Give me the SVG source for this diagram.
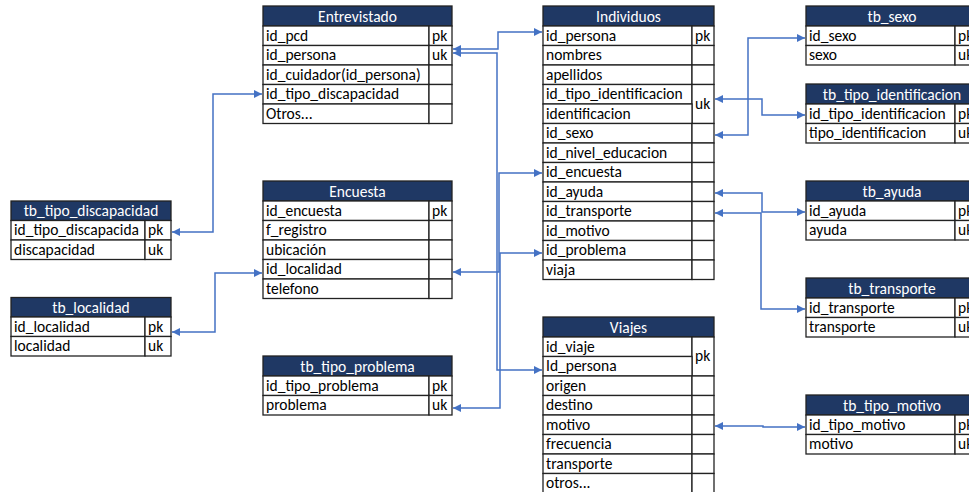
<svg xmlns="http://www.w3.org/2000/svg" width="969" height="492" viewBox="0 0 969 492">
<defs>
<marker id="ah" viewBox="0 0 8 8" refX="8" refY="4" markerWidth="8" markerHeight="8" markerUnits="userSpaceOnUse" orient="auto-start-reverse">
<path d="M0,0 L8,4 L0,8 z" fill="#4472C4"/>
</marker>
<style>
.hd{fill:#1F3864;stroke:#222;stroke-width:1.3}
.c{fill:#fff;stroke:#222;stroke-width:1.3}
.t{font-family:Carlito,Lato,"Liberation Sans",sans-serif;font-size:15.5px;fill:#000}
.h{font-family:Carlito,Lato,"Liberation Sans",sans-serif;font-size:15.5px;fill:#fff;text-anchor:middle}
.ln{fill:none;stroke:#4472C4;stroke-width:1.5;marker-start:url(#ah);marker-end:url(#ah)}
</style>
</defs>
<rect width="969" height="492" fill="#fff"/>

<g id="connectors">
<path class="ln" d="M453,49 H498 V32 H542"/>
<path class="ln" d="M453,53 H497 V370 H542"/>
<path class="ln" d="M453,272 H499 V173 H542"/>
<path class="ln" d="M453,408 H500 V253 H542"/>
<path class="ln" d="M172,232 H213 V94 H262"/>
<path class="ln" d="M172,332 H215 V273 H262"/>
<path class="ln" d="M715,99 H762 V115 H805"/>
<path class="ln" d="M715,135 H748 V38 H805"/>
<path class="ln" d="M715,193 H762 V212 H805"/>
<path class="ln" d="M715,213 H761 V309 H805"/>
<path class="ln" d="M715,426 H763 V427 H805"/>
</g>

<g id="entrevistado">
<rect class="hd" x="263" y="6" width="189" height="20"/>
<text class="h" x="357.5" y="21.5">Entrevistado</text>
<rect class="c" x="263" y="26" width="166" height="19.5"/><rect class="c" x="429" y="26" width="23" height="19.5"/>
<rect class="c" x="263" y="45.5" width="166" height="19.5"/><rect class="c" x="429" y="45.5" width="23" height="19.5"/>
<rect class="c" x="263" y="65" width="166" height="19.5"/><rect class="c" x="429" y="65" width="23" height="19.5"/>
<rect class="c" x="263" y="84.5" width="166" height="19.5"/><rect class="c" x="429" y="84.5" width="23" height="19.5"/>
<rect class="c" x="263" y="104" width="166" height="19.5"/><rect class="c" x="429" y="104" width="23" height="19.5"/>
<text class="t" x="266" y="40.5">id_pcd</text><text class="t" x="432" y="40.5">pk</text>
<text class="t" x="266" y="60">id_persona</text><text class="t" x="432" y="60">uk</text>
<text class="t" x="266" y="79.5">id_cuidador(id_persona)</text>
<text class="t" x="266" y="99">id_tipo_discapacidad</text>
<text class="t" x="266" y="118.5">Otros...</text>
</g>

<g id="individuos">
<rect class="hd" x="543" y="6" width="171" height="20"/>
<text class="h" x="628.5" y="21.5">Individuos</text>
<rect class="c" x="543" y="26" width="149" height="19.5"/><rect class="c" x="692" y="26" width="22" height="19.5"/>
<rect class="c" x="543" y="45.5" width="149" height="19.5"/><rect class="c" x="692" y="45.5" width="22" height="19.5"/>
<rect class="c" x="543" y="65" width="149" height="19.5"/><rect class="c" x="692" y="65" width="22" height="19.5"/>
<rect class="c" x="543" y="84.5" width="149" height="19.5"/><rect class="c" x="692" y="84.5" width="22" height="39"/>
<rect class="c" x="543" y="104" width="149" height="19.5"/>
<rect class="c" x="543" y="123.5" width="149" height="19.5"/><rect class="c" x="692" y="123.5" width="22" height="19.5"/>
<rect class="c" x="543" y="143" width="149" height="19.5"/><rect class="c" x="692" y="143" width="22" height="19.5"/>
<rect class="c" x="543" y="162.5" width="149" height="19.5"/><rect class="c" x="692" y="162.5" width="22" height="19.5"/>
<rect class="c" x="543" y="182" width="149" height="19.5"/><rect class="c" x="692" y="182" width="22" height="19.5"/>
<rect class="c" x="543" y="201.5" width="149" height="19.5"/><rect class="c" x="692" y="201.5" width="22" height="19.5"/>
<rect class="c" x="543" y="221" width="149" height="19.5"/><rect class="c" x="692" y="221" width="22" height="19.5"/>
<rect class="c" x="543" y="240.5" width="149" height="19.5"/><rect class="c" x="692" y="240.5" width="22" height="19.5"/>
<rect class="c" x="543" y="260" width="149" height="19.5"/><rect class="c" x="692" y="260" width="22" height="19.5"/>
<text class="t" x="546" y="40.5">id_persona</text><text class="t" x="695" y="40.5">pk</text>
<text class="t" x="546" y="60">nombres</text>
<text class="t" x="546" y="79.5">apellidos</text>
<text class="t" x="546" y="99">id_tipo_identificacion</text>
<text class="t" x="695" y="109">uk</text>
<text class="t" x="546" y="118.5">identificacion</text>
<text class="t" x="546" y="138">id_sexo</text>
<text class="t" x="546" y="157.5">id_nivel_educacion</text>
<text class="t" x="546" y="177">id_encuesta</text>
<text class="t" x="546" y="196.5">id_ayuda</text>
<text class="t" x="546" y="216">id_transporte</text>
<text class="t" x="546" y="235.5">id_motivo</text>
<text class="t" x="546" y="255">id_problema</text>
<text class="t" x="546" y="274.5">viaja</text>
</g>

<g id="tb_sexo">
<rect class="hd" x="806" y="6" width="172" height="20"/>
<text class="h" x="892" y="21.5">tb_sexo</text>
<rect class="c" x="806" y="26" width="149" height="19.5"/><rect class="c" x="955" y="26" width="23" height="19.5"/>
<rect class="c" x="806" y="45.5" width="149" height="19.5"/><rect class="c" x="955" y="45.5" width="23" height="19.5"/>
<text class="t" x="809" y="40.5">id_sexo</text><text class="t" x="958" y="40.5">pk</text>
<text class="t" x="809" y="60">sexo</text><text class="t" x="958" y="60">uk</text>
</g>

<g id="tb_tipo_identificacion">
<rect class="hd" x="806" y="84" width="172" height="20"/>
<text class="h" x="892" y="99.5">tb_tipo_identificacion</text>
<rect class="c" x="806" y="104" width="149" height="19.5"/><rect class="c" x="955" y="104" width="23" height="19.5"/>
<rect class="c" x="806" y="123.5" width="149" height="19.5"/><rect class="c" x="955" y="123.5" width="23" height="19.5"/>
<text class="t" x="809" y="118.5">id_tipo_identificacion</text><text class="t" x="958" y="118.5">pk</text>
<text class="t" x="809" y="138">tipo_identificacion</text><text class="t" x="958" y="138">uk</text>
</g>

<g id="tb_tipo_discapacidad">
<rect class="hd" x="11" y="201" width="160" height="19.5"/>
<text class="h" x="91" y="216">tb_tipo_discapacidad</text>
<rect class="c" x="11" y="220.5" width="134" height="19.5"/><rect class="c" x="145" y="220.5" width="26" height="19.5"/>
<rect class="c" x="11" y="240" width="134" height="19.5"/><rect class="c" x="145" y="240" width="26" height="19.5"/>
<text class="t" x="14" y="235">id_tipo_discapacida</text><text class="t" x="148" y="235">pk</text>
<text class="t" x="14" y="254.5">discapacidad</text><text class="t" x="148" y="254.5">uk</text>
</g>

<g id="tb_localidad">
<rect class="hd" x="11" y="297.5" width="160" height="19.5"/>
<text class="h" x="91" y="312.5">tb_localidad</text>
<rect class="c" x="11" y="317" width="134" height="19.5"/><rect class="c" x="145" y="317" width="26" height="19.5"/>
<rect class="c" x="11" y="336.5" width="134" height="19.5"/><rect class="c" x="145" y="336.5" width="26" height="19.5"/>
<text class="t" x="14" y="331.5">id_localidad</text><text class="t" x="148" y="331.5">pk</text>
<text class="t" x="14" y="351">localidad</text><text class="t" x="148" y="351">uk</text>
</g>

<g id="encuesta">
<rect class="hd" x="263" y="181" width="189" height="20"/>
<text class="h" x="357.5" y="196.5">Encuesta</text>
<rect class="c" x="263" y="201" width="166" height="19.5"/><rect class="c" x="429" y="201" width="23" height="19.5"/>
<rect class="c" x="263" y="220.5" width="166" height="19.5"/><rect class="c" x="429" y="220.5" width="23" height="19.5"/>
<rect class="c" x="263" y="240" width="166" height="19.5"/><rect class="c" x="429" y="240" width="23" height="19.5"/>
<rect class="c" x="263" y="259.5" width="166" height="19.5"/><rect class="c" x="429" y="259.5" width="23" height="19.5"/>
<rect class="c" x="263" y="279" width="166" height="19.5"/><rect class="c" x="429" y="279" width="23" height="19.5"/>
<text class="t" x="266" y="215.5">id_encuesta</text><text class="t" x="432" y="215.5">pk</text>
<text class="t" x="266" y="235">f_registro</text>
<text class="t" x="266" y="254.5">ubicación</text>
<text class="t" x="266" y="274">id_localidad</text>
<text class="t" x="266" y="293.5">telefono</text>
</g>

<g id="tb_tipo_problema">
<rect class="hd" x="263" y="356" width="189" height="20"/>
<text class="h" x="357.5" y="371.5">tb_tipo_problema</text>
<rect class="c" x="263" y="376" width="166" height="19.5"/><rect class="c" x="429" y="376" width="23" height="19.5"/>
<rect class="c" x="263" y="395.5" width="166" height="19.5"/><rect class="c" x="429" y="395.5" width="23" height="19.5"/>
<text class="t" x="266" y="390.5">id_tipo_problema</text><text class="t" x="432" y="390.5">pk</text>
<text class="t" x="266" y="410">problema</text><text class="t" x="432" y="410">uk</text>
</g>

<g id="tb_ayuda">
<rect class="hd" x="806" y="181" width="172" height="20"/>
<text class="h" x="892" y="196.5">tb_ayuda</text>
<rect class="c" x="806" y="201" width="149" height="19.5"/><rect class="c" x="955" y="201" width="23" height="19.5"/>
<rect class="c" x="806" y="220.5" width="149" height="19.5"/><rect class="c" x="955" y="220.5" width="23" height="19.5"/>
<text class="t" x="809" y="215.5">id_ayuda</text><text class="t" x="958" y="215.5">pk</text>
<text class="t" x="809" y="235">ayuda</text><text class="t" x="958" y="235">uk</text>
</g>

<g id="tb_transporte">
<rect class="hd" x="806" y="278" width="172" height="20"/>
<text class="h" x="892" y="293.5">tb_transporte</text>
<rect class="c" x="806" y="298" width="149" height="19.5"/><rect class="c" x="955" y="298" width="23" height="19.5"/>
<rect class="c" x="806" y="317.5" width="149" height="19.5"/><rect class="c" x="955" y="317.5" width="23" height="19.5"/>
<text class="t" x="809" y="312.5">id_transporte</text><text class="t" x="958" y="312.5">pk</text>
<text class="t" x="809" y="332">transporte</text><text class="t" x="958" y="332">uk</text>
</g>

<g id="viajes">
<rect class="hd" x="543" y="317" width="171" height="20"/>
<text class="h" x="628.5" y="332.5">Viajes</text>
<rect class="c" x="543" y="337" width="149" height="19.5"/><rect class="c" x="692" y="337" width="22" height="39"/>
<rect class="c" x="543" y="356.5" width="149" height="19.5"/>
<rect class="c" x="543" y="376" width="149" height="19.5"/><rect class="c" x="692" y="376" width="22" height="19.5"/>
<rect class="c" x="543" y="395.5" width="149" height="19.5"/><rect class="c" x="692" y="395.5" width="22" height="19.5"/>
<rect class="c" x="543" y="415" width="149" height="19.5"/><rect class="c" x="692" y="415" width="22" height="19.5"/>
<rect class="c" x="543" y="434.5" width="149" height="19.5"/><rect class="c" x="692" y="434.5" width="22" height="19.5"/>
<rect class="c" x="543" y="454" width="149" height="19.5"/><rect class="c" x="692" y="454" width="22" height="19.5"/>
<rect class="c" x="543" y="473.5" width="149" height="19.5"/><rect class="c" x="692" y="473.5" width="22" height="19.5"/>
<text class="t" x="546" y="351.5">id_viaje</text><text class="t" x="695" y="361">pk</text>
<text class="t" x="546" y="371">Id_persona</text>
<text class="t" x="546" y="390.5">origen</text>
<text class="t" x="546" y="410">destino</text>
<text class="t" x="546" y="429.5">motivo</text>
<text class="t" x="546" y="449">frecuencia</text>
<text class="t" x="546" y="468.5">transporte</text>
<text class="t" x="546" y="488">otros...</text>
</g>

<g id="tb_tipo_motivo">
<rect class="hd" x="806" y="395" width="172" height="20"/>
<text class="h" x="892" y="410.5">tb_tipo_motivo</text>
<rect class="c" x="806" y="415" width="149" height="19.5"/><rect class="c" x="955" y="415" width="23" height="19.5"/>
<rect class="c" x="806" y="434.5" width="149" height="19.5"/><rect class="c" x="955" y="434.5" width="23" height="19.5"/>
<text class="t" x="809" y="429.5">id_tipo_motivo</text><text class="t" x="958" y="429.5">pk</text>
<text class="t" x="809" y="449">motivo</text><text class="t" x="958" y="449">uk</text>
</g>
</svg>
